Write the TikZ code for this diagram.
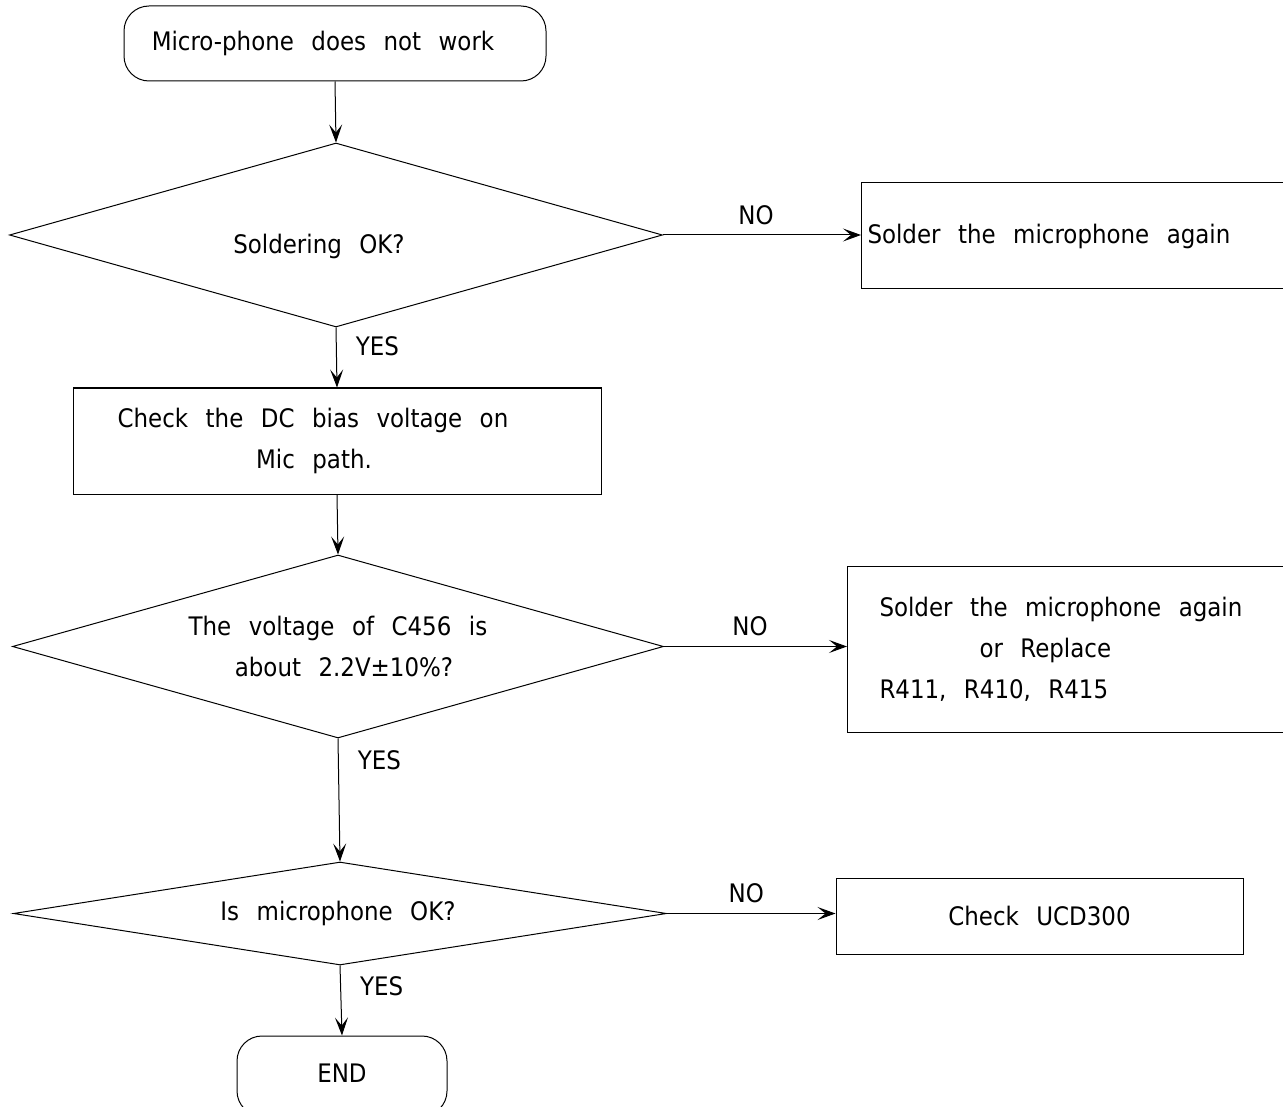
\documentclass[tikz,border=0pt]{standalone}
\usepackage{fontspec}
\setmainfont{DejaVu Sans Condensed}
\usetikzlibrary{shapes.geometric,arrows.meta}
\begin{document}
\begin{tikzpicture}[x=1pt,y=-1pt,line width=1pt,
  every node/.style={font=\fontsize{25.5}{41}\selectfont,
    execute at begin node={\spaceskip=17.5pt\relax\xspaceskip=17.5pt\relax}},
  term/.style={draw,rectangle,rounded corners=25pt,inner sep=0pt},
  proc/.style={draw,rectangle},
  decision/.style={draw,diamond,inner sep=2pt},
  arr/.style={-{Stealth[length=18pt,width=13pt,inset=8pt]}},
  yes/.style={anchor=west,xshift=17pt,inner sep=2pt},
  no/.style={above=8pt,inner sep=2pt,pos=0.47}]
\useasboundingbox (0,0) rectangle (1283,1107);

\node[term,minimum width=422pt,minimum height=75pt] (start) at (335,43.5) {Micro-phone does not work\hspace*{24pt}};
\node[decision,shape aspect=3.5,minimum width=653pt,minimum height=184pt] (d1) at (336,235) {\raisebox{-11pt}[\height][\depth]{Soldering OK?\hspace*{34pt}}};
\node[proc,anchor=west,minimum height=106pt,text width=428pt,inner xsep=6pt,align=left] (sol1) at (861,236) {Solder the microphone again};
\node[proc,minimum width=528pt,minimum height=106pt,align=center] (box2) at (337,441) {Check the DC bias voltage on\hspace*{48pt}\\Mic path.\hspace*{46pt}};
\node[decision,shape aspect=3.5,minimum width=651pt,minimum height=183pt,align=center] (d2) at (338,646.5) {The voltage of C456 is\\\hspace*{12pt}about 2.2V±10\%?};
\node[proc,anchor=west,minimum height=166pt,text width=379pt,inner xsep=32pt,align=left] (sol2) at (847,649) {Solder the microphone again\\\hspace*{100pt}or Replace\\R411, R410, R415};
\node[decision,shape aspect=6,minimum width=653pt,minimum height=103pt] (d3) at (340,913.5) {Is microphone OK?\hspace*{4pt}};
\node[proc,minimum width=407pt,minimum height=76pt] (ucd) at (1039.5,916) {Check UCD300};
\node[term,minimum width=210pt,minimum height=80pt] (end) at (342,1076) {\raisebox{6pt}{END}};

\draw[arr] (start.south) -- (d1.north);
\draw[arr] (d1.east) -- node[no] {NO} (d1.east -| sol1.west);
\draw[arr] (d1.south) -- node[yes,pos=0.31] {YES} (box2.north);
\draw[arr] (box2.south) -- (d2.north);
\draw[arr] (d2.east) -- node[no] {NO} (d2.east -| sol2.west);
\draw[arr] (d2.south) -- node[yes,pos=0.18] {YES} (d3.north);
\draw[arr] (d3.east) -- node[no] {NO} (d3.east -| ucd.west);
\draw[arr] (d3.south) -- node[yes,pos=0.3] {YES} (end.north);
\end{tikzpicture}
\end{document}
